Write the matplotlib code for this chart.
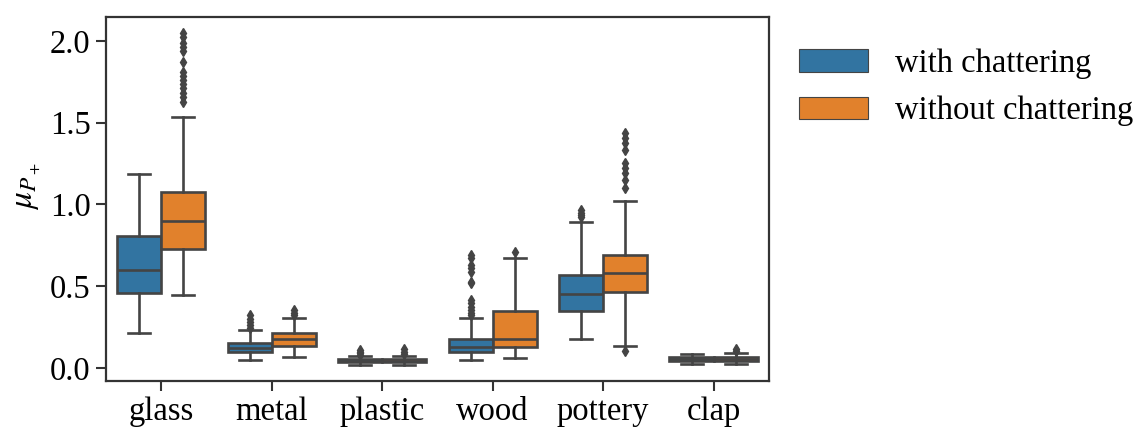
import matplotlib
matplotlib.use("Agg")
import matplotlib.pyplot as plt
from matplotlib.patches import Patch

plt.rcParams["font.family"] = ["Liberation Serif", "DejaVu Serif"]
plt.rcParams["mathtext.fontset"] = "stix"

categories = ["glass", "metal", "plastic", "wood", "pottery", "clap"]
hue_labels = ["with chattering", "without chattering"]
hue_colors = ["#3274a1", "#e1812c"]

# Five-number summaries per category: (whislo, q1, median, q3, whishi)
with_stats = [
    (0.217, 0.458, 0.600, 0.806, 1.184),
    (0.049, 0.098, 0.126, 0.153, 0.234),
    (0.020, 0.037, 0.046, 0.058, 0.075),
    (0.051, 0.101, 0.128, 0.179, 0.305),
    (0.179, 0.350, 0.454, 0.570, 0.895),
    (0.028, 0.045, 0.058, 0.070, 0.088),
]
without_stats = [
    (0.446, 0.726, 0.901, 1.076, 1.534),
    (0.070, 0.138, 0.178, 0.214, 0.304),
    (0.020, 0.037, 0.046, 0.057, 0.077),
    (0.065, 0.132, 0.177, 0.350, 0.675),
    (0.136, 0.468, 0.584, 0.692, 1.021),
    (0.026, 0.046, 0.056, 0.068, 0.095),
]
with_fliers = [
    [],
    [0.246, 0.262, 0.280, 0.300, 0.325],
    [0.080, 0.090, 0.100, 0.112],
    [0.325, 0.340, 0.356, 0.376, 0.397, 0.417,
     0.519, 0.529, 0.590, 0.611, 0.631, 0.672, 0.692],
    [0.925, 0.935, 0.950, 0.966],
    [],
]
without_fliers = [
    [1.628, 1.658, 1.683, 1.709, 1.736, 1.760, 1.785, 1.811, 1.868,
     1.940, 1.964, 1.988, 2.021, 2.045],
    [0.325, 0.340, 0.356],
    [0.085, 0.100, 0.116],
    [0.712],
    [0.106, 1.099, 1.150, 1.190, 1.221, 1.252, 1.333, 1.374, 1.404, 1.435],
    [0.105, 0.118],
]

edge = "#444444"
fig = plt.figure(figsize=(11.41, 4.29), dpi=100)
ax = fig.add_axes([0.0929, 0.112, 0.581, 0.849])

width = 0.4
for h, (stats_list, fliers_list) in enumerate(
        [(with_stats, with_fliers), (without_stats, without_fliers)]):
    offset = -width / 2 if h == 0 else width / 2
    bstats = []
    for (lo, q1, med, q3, hi), fl in zip(stats_list, fliers_list):
        bstats.append(dict(whislo=lo, q1=q1, med=med, q3=q3, whishi=hi,
                           fliers=fl))
    positions = [i + offset for i in range(len(categories))]
    ax.bxp(bstats, positions=positions, widths=width,
           capwidths=width / 2, patch_artist=True, showfliers=True,
           boxprops=dict(facecolor=hue_colors[h], edgecolor=edge,
                         linewidth=1.9),
           medianprops=dict(color=edge, linewidth=1.9),
           whiskerprops=dict(color=edge, linewidth=1.9),
           capprops=dict(color=edge, linewidth=1.9),
           flierprops=dict(marker="d", markerfacecolor=edge,
                           markeredgecolor=edge, markersize=5.5,
                           linestyle="none"))

ax.set_xlim(-0.5, len(categories) - 0.5)
ax.set_ylim(-0.078, 2.147)
ax.set_xticks(range(len(categories)))
ax.set_xticklabels(categories)
ax.set_yticks([0.0, 0.5, 1.0, 1.5, 2.0])
ax.set_yticklabels(["0.0", "0.5", "1.0", "1.5", "2.0"])
ax.tick_params(axis="both", labelsize=23.5, length=7, width=1.5,
               color="#333333", direction="out", pad=4)
for s in ax.spines.values():
    s.set_color("#333333")
    s.set_linewidth(1.6)

ax.set_ylabel(r"$\mu_{P_+}$", fontsize=24)
ax.yaxis.set_label_coords(-0.095, 0.535)

handles = [Patch(facecolor=c, edgecolor=edge, linewidth=0.8)
           for c in hue_colors]
ax.legend(handles, hue_labels, loc="upper left",
          bbox_to_anchor=(1.026, 0.948), frameon=False, fontsize=23.5,
          handlelength=2.1, handleheight=0.7, handletextpad=0.85,
          labelspacing=0.51, borderaxespad=0.0)

fig.savefig("out.png", dpi=100)
